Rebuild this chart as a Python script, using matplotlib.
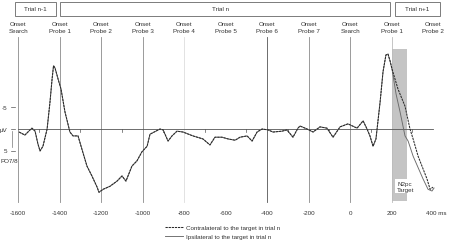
import matplotlib
matplotlib.use('Agg')
import matplotlib.pyplot as plt
from matplotlib.patches import Rectangle

plt.rcParams['font.family'] = ['Liberation Sans', 'DejaVu Sans']

# tracciato comune (ms, microvolt; negativo in alto)
t_common = [-1595, -1567, -1542, -1533, -1518, -1504, -1494, -1480, -1460, -1446,
            -1436, -1429, -1422, -1407, -1393, -1374, -1350, -1335, -1311, -1292,
            -1268, -1244, -1219, -1210, -1190, -1157, -1123, -1099, -1080, -1051,
            -1027, -1003, -978, -964, -916, -901, -877, -858, -834, -805,
            -757, -709, -675, -651, -617, -588, -554, -530, -496, -472,
            -448, -424, -395, -371, -328, -304, -275, -251, -241, -207,
            -178, -145, -111, -82, -48, -10, 34, 63, 82, 96,
            111, 125, 145, 159, 173, 183, 193]
v_common = [0.7, 1.4, 0.2, -0.2, 0.5, 3.5, 5.1, 4.0, 0.0, -6.3,
            -11.6, -14.7, -14.2, -11.6, -9.3, -4.0, 0.7, 1.6, 1.6, 4.7,
            8.6, 10.9, 13.5, 14.7, 14.0, 13.3, 12.1, 10.9, 12.1, 8.6,
            7.4, 5.3, 4.0, 1.2, 0.0, 0.2, 2.8, 1.6, 0.5, 0.7,
            1.6, 2.3, 3.7, 1.9, 1.9, 2.3, 2.6, 1.9, 1.6, 2.8,
            0.7, 0.0, 0.2, 0.7, 0.5, 0.2, 1.9, -0.2, -0.7, 0.0,
            0.7, -0.5, -0.2, 1.9, -0.5, -1.2, -0.2, -1.9, 0.0, 1.6,
            4.0, 2.3, -6.3, -13.3, -17.2, -17.4, -15.8]

# dopo lo split
t_contra = [202, 231, 265, 289, 304, 328, 371, 386, 400]
v_contra = [-14.0, -9.3, -5.3, 0.0, 2.3, 6.3, 11.6, 14.0, 13.5]
t_ipsi = [202, 222, 241, 265, 280, 304, 352, 376, 395, 405]
v_ipsi = [-14.0, -8.1, -4.0, 1.6, 2.8, 6.3, 11.6, 14.0, 14.4, 13.7]

onset_ms = [-1600, -1400, -1200, -1000, -800, -600, -400, -200, 0, 200, 400]
onset_labels = ['Onset\nSearch', 'Onset\nProbe 1', 'Onset\nProbe 2', 'Onset\nProbe 3',
                'Onset\nProbe 4', 'Onset\nProbe 5', 'Onset\nProbe 6', 'Onset\nProbe 7',
                'Onset\nSearch', 'Onset\nProbe 1', 'Onset\nProbe 2']
onset_colors = ['#8a8a8a', '#8a8a8a', '#8a8a8a', '#8a8a8a', '#dddddd', None,
                '#555555', '#8a8a8a', '#8a8a8a', '#bbbbbb', None]
xtick_vals = [-1600, -1400, -1200, -1000, -800, -600, -400, -200, 0, 200]
minor_ticks = [-1500, -1300, -1100, -900, -700, -500, -300, -100, 100, 300]
trials = [('Trial n-1', -1615, -1417), ('Trial n', -1398, 193), ('Trial n+1', 217, 434)]

fig = plt.figure(figsize=(4.49, 2.51), dpi=100)
ax = fig.add_axes([0, 0, 1, 1])
ax.set_xlim(-1687, 477)
ax.set_ylim(28.1, -30.2)
ax.axis('off')

fs = 4.5
tc = '#333333'

# finestra N2pc
ax.add_patch(Rectangle((200, -18.6), 75, 35.3, facecolor='#c4c4c4', edgecolor='none', zorder=0))

# linee di onset
for t, c in zip(onset_ms, onset_colors):
    if c is not None:
        ax.plot([t, t], [-21.4, 17.0], color=c, lw=0.6, zorder=1)
for t, lab in zip(onset_ms, onset_labels):
    ax.text(t, -23.7, lab, fontsize=fs, color=tc, ha='center', va='center', linespacing=1.3)

# linea dello zero
ax.plot([-1600, 400], [0, 0], color='#555555', lw=0.6, zorder=2)
for t in minor_ticks:
    ax.plot([t, t], [0, 0.8], color='#555555', lw=0.5, zorder=2)

# asse y
ax.plot([-1629, -1629], [0.5, 4.2], color='#777777', lw=0.5)
for v, lab in zip([-5, 0, 5], ['-5', 'µV', '5']):
    ax.plot([-1634, -1615], [v, v], color='#555555', lw=0.5)
    ax.text(-1650, v, lab, fontsize=fs, color=tc, ha='right', va='center')
ax.text(-1684, 7.4, 'PO7/8', fontsize=fs, color=tc, ha='left', va='center')

# etichette asse x
for t in xtick_vals:
    ax.text(t, 19.3, str(t), fontsize=fs, color=tc, ha='center', va='center')
ax.text(366, 19.3, '400 ms', fontsize=fs, color=tc, ha='left', va='center')

# box dei trial
for lab, x0, x1 in trials:
    ax.add_patch(Rectangle((x0, -29.5), x1 - x0, 3.2, facecolor='white',
                           edgecolor='#666666', lw=0.6))
cx = [-1516, -622, 325]
for (lab, x0, x1), c in zip(trials, cx):
    ax.text(c, -27.9, lab, fontsize=fs, color=tc, ha='center', va='center')

# curve
l1, = ax.plot(t_common + t_contra, v_common + v_contra, color='#2a2a2a', lw=0.75,
              dashes=(2.2, 0.8), zorder=4)
l2, = ax.plot(t_common + t_ipsi, v_common + v_ipsi, color='#6a6a6a', lw=0.65, zorder=3)

ax.text(227, 13.3, 'N2pc\nTarget', fontsize=fs, color=tc, ha='left', va='center',
        linespacing=1.2, zorder=5,
        bbox=dict(facecolor='white', edgecolor='none', pad=1.2))

fig.legend([l1, l2], ['Contralateral to the target in trial n',
                      'Ipsilateral to the target in trial n'],
           loc='upper left', bbox_to_anchor=(165 / 449, 1 - 226 / 251),
           frameon=False, fontsize=fs, handlelength=2.9, handletextpad=0.5,
           labelspacing=0.5, borderpad=0, borderaxespad=0, labelcolor=tc)

fig.savefig('out.png', dpi=100)
